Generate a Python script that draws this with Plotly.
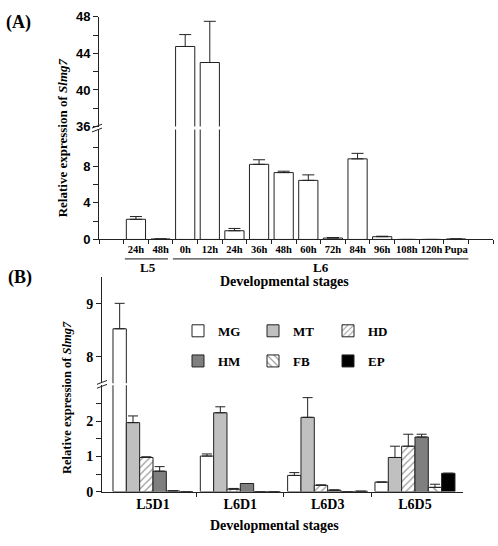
import plotly.graph_objects as go

# ---------------- data ----------------
A_categories = ["24h", "48h", "0h", "12h", "24h", "36h", "48h", "60h", "72h",
                "84h", "96h", "108h", "120h", "Pupa"]
A_values = [2.2, 0.05, 44.75, 43.0, 0.95, 8.2, 7.3, 6.45, 0.15, 8.8, 0.3, 0.0, 0.0, 0.05]
A_errors = [0.3, 0.0, 1.3, 4.5, 0.25, 0.5, 0.15, 0.6, 0.05, 0.6, 0.05, 0.0, 0.0, 0.0]
A_groups = [("L5", 0, 1), ("L6", 2, 13)]

B_stages = ["L5D1", "L6D1", "L6D3", "L6D5"]
B_tissues = ["MG", "MT", "HD", "HM", "FB", "EP"]
MG_values = [8.53, 1.01, 0.46, 0.27]
MG_errors = [0.48, 0.06, 0.08, 0.0]
MT_values = [1.96, 2.24, 2.11, 0.97]
MT_errors = [0.19, 0.17, 0.56, 0.32]
HD_values = [0.97, 0.07, 0.18, 1.29]
HD_errors = [0.02, 0.02, 0.01, 0.34]
HM_values = [0.58, 0.23, 0.04, 1.55]
HM_errors = [0.13, 0.0, 0.01, 0.08]
FB_values = [0.02, 0.0, 0.0, 0.12]
FB_errors = [0.0, 0.0, 0.0, 0.09]
EP_values = [0.0, 0.0, 0.01, 0.52]
EP_errors = [0.0, 0.0, 0.0, 0.0]

B_values = [MG_values, MT_values, HD_values, HM_values, FB_values, EP_values]
B_errors = [MG_errors, MT_errors, HD_errors, HM_errors, FB_errors, EP_errors]

# ---------------- styling ----------------
W, H = 498, 546
def px(x): return x / W
def py(y): return 1 - y / H

SERIF = "Liberation Serif, Times New Roman, serif"
SANS = "Liberation Sans, Arial, sans-serif"
LINE = "#222222"

B_styles = [
    dict(color="white"),
    dict(color="#c0c0c0"),
    dict(color="white", pattern=dict(shape="/", fgcolor="#333", bgcolor="white", size=5, solidity=0.25)),
    dict(color="#7f7f7f"),
    dict(color="white", pattern=dict(shape="\\", fgcolor="#333", bgcolor="white", size=6, solidity=0.25)),
    dict(color="black"),
]

fig = go.Figure()

A_pos = list(range(len(A_categories)))
for xa, ya in [("x", "y"), ("x2", "y2")]:
    fig.add_trace(go.Bar(
        x=A_pos, y=A_values, width=0.78,
        marker=dict(color="white", line=dict(color=LINE, width=1)),
        error_y=dict(type="data", array=A_errors, arrayminus=[0] * len(A_errors),
                     symmetric=False, color=LINE, thickness=1, width=6),
        xaxis=xa, yaxis=ya, showlegend=False, hoverinfo="skip"))

B_pos = list(range(len(B_stages)))
bw = 0.1527
for xa, ya, show in [("x3", "y3", True), ("x4", "y4", False)]:
    for i, name in enumerate(B_tissues):
        m = dict(B_styles[i])
        m["line"] = dict(color=LINE, width=1)
        fig.add_trace(go.Bar(
            x=B_pos, y=B_values[i], width=bw, offset=-3 * bw + i * bw,
            name=name, marker=m,
            error_y=dict(type="data", array=B_errors[i], arrayminus=[0] * len(B_pos),
                         symmetric=False, color=LINE, thickness=1, width=5),
            xaxis=xa, yaxis=ya, showlegend=show,
            legend="legend" if i < 3 else "legend2", hoverinfo="skip"))

axis_common = dict(showline=True, linecolor=LINE, linewidth=1, showgrid=False,
                   zeroline=False, ticks="outside", ticklen=5, tickcolor=LINE, tickwidth=1)

A_bounds = [p - 0.5 for p in A_pos] + [A_pos[-1] + 0.5, A_pos[-1] + 1.5, A_pos[0] - 1.5]
B_bounds = [p + 0.5 for p in B_pos[:-1]]

legend_common = dict(orientation="h", xanchor="left", yanchor="middle",
                     entrywidth=30, entrywidthmode="pixels", itemwidth=30,
                     font=dict(family=SERIF, size=13, color="black", weight="bold"),
                     bgcolor="rgba(0,0,0,0)", traceorder="normal")

fig.update_layout(
    width=W, height=H, margin=dict(l=0, r=0, t=0, b=0),
    paper_bgcolor="white", plot_bgcolor="white", barmode="overlay",
    xaxis=dict(**{**axis_common, "ticks": ""}, domain=[px(99), px(493)], range=[-1.5, 14.5],
               anchor="y", tickmode="array", tickvals=A_pos, ticktext=A_categories,
               tickangle=0,
               tickfont=dict(family=SERIF, size=10.5, color="black", weight="bold"),
               minor=dict(tickmode="array", tickvals=A_bounds, ticks="outside", ticklen=4,
                          tickcolor=LINE)),
    xaxis2=dict(domain=[px(99), px(493)], range=[-1.5, 14.5], anchor="y2", matches="x",
                visible=False),
    yaxis=dict(**axis_common, domain=[py(239), py(126)], range=[0, 12], anchor="x",
               tickmode="array", tickvals=[0, 4, 8],
               tickfont=dict(family=SANS, size=13, color="black", weight="bold"),
               minor=dict(tickmode="array", tickvals=[2, 6, 10], ticks="outside", ticklen=5,
                          tickcolor=LINE)),
    yaxis2=dict(**axis_common, domain=[py(123), py(10)], range=[36, 48], anchor="x2",
                tickmode="array", tickvals=[36, 40, 44, 48],
                tickfont=dict(family=SANS, size=13, color="black", weight="bold"),
                minor=dict(tickmode="array", tickvals=[38, 42, 46], ticks="outside", ticklen=5,
                           tickcolor=LINE)),
    xaxis3=dict(**{**axis_common, "ticks": ""}, domain=[px(102), px(463)], range=[-0.584, 3.55],
                anchor="y3", tickmode="array", tickvals=B_pos, ticktext=B_stages, tickangle=0,
                tickfont=dict(family=SERIF, size=14, color="black", weight="bold"),
                minor=dict(tickmode="array", tickvals=B_bounds, ticks="outside", ticklen=4,
                           tickcolor=LINE)),
    xaxis4=dict(domain=[px(102), px(463)], range=[-0.584, 3.55], anchor="y4", matches="x3",
                visible=False),
    yaxis3=dict(**axis_common, domain=[py(498.3), py(389)], range=[0, 3.02], anchor="x3",
                tickmode="array", tickvals=[0, 1, 2],
                tickfont=dict(family=SERIF, size=14, color="black", weight="bold"),
                minor=dict(tickmode="array", tickvals=[0.5, 1.5, 2.5], ticks="outside",
                           ticklen=5, tickcolor=LINE)),
    yaxis4=dict(**axis_common, domain=[py(387), py(278)], range=[7.5, 9.5], anchor="x4",
                tickmode="array", tickvals=[8, 9],
                tickfont=dict(family=SERIF, size=14, color="black", weight="bold")),
    legend=dict(**legend_common, x=px(178), y=py(333)),
    legend2=dict(**legend_common, x=px(178), y=py(364)),
)

ann_font = dict(family=SERIF, color="black", weight="bold")
P = dict(xref="paper", yref="paper", showarrow=False)
annotations = [
    dict(**P, text="(A)", x=px(4), y=py(16), xanchor="left", yanchor="middle",
         font=dict(**ann_font, size=18)),
    dict(**P, text="(B)", x=px(6), y=py(278), xanchor="left", yanchor="middle",
         font=dict(**ann_font, size=18)),
    dict(**P, text="Relative expression of <i>Slmg7</i>", x=px(62), y=py(135), textangle=-90,
         xanchor="center", yanchor="middle", font=dict(**ann_font, size=13)),
    dict(**P, text="Relative expression of <i>Slmg7</i>", x=px(67), y=py(402), textangle=-90,
         xanchor="center", yanchor="middle", font=dict(**ann_font, size=12.5)),
    dict(**P, text="Developmental stages", x=px(284), y=py(282), xanchor="center",
         yanchor="middle", font=dict(**ann_font, size=14)),
    dict(**P, text="Developmental stages", x=px(274), y=py(533), xanchor="center",
         yanchor="middle", font=dict(**ann_font, size=14)),
]
shapes = []
for label, first, last in A_groups:
    x0 = first - 0.45 if first == 0 else first - 0.5
    x1 = last + 0.3 if first == 0 else last + 0.5
    shapes.append(dict(type="line", xref="x", yref="paper", x0=x0, x1=x1,
                       y0=py(259), y1=py(259), line=dict(color="#444", width=1.2)))
    annotations.append(dict(text=label, xref="x", yref="paper", showarrow=False,
                            x=(first + last) / 2, y=py(268),
                            xanchor="center", yanchor="middle",
                            font=dict(**ann_font, size=13)))
# axis break marks
for (cx, cy) in [(97, 124.5), (102, 388)]:
    for d in (-2, 2):
        shapes.append(dict(type="line", xref="paper", yref="paper",
                           x0=px(cx - 5), y0=py(cy + d + 2), x1=px(cx + 5), y1=py(cy + d - 2),
                           line=dict(color=LINE, width=1)))
fig.update_layout(annotations=annotations, shapes=shapes)

fig.write_html("out.html", config={"displayModeBar": False},
               post_script="document.body.style.margin='0';document.body.style.overflow='hidden';")
